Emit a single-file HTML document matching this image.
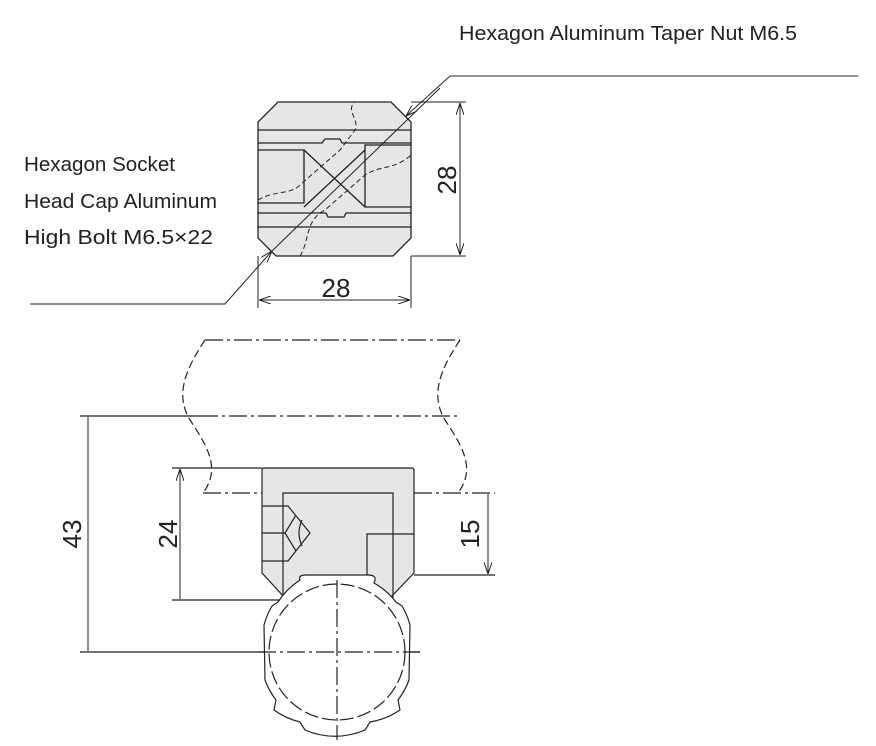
<!DOCTYPE html>
<html><head><style>body{margin:0;background:#fff}svg{display:block}</style></head><body>
<svg width="876" height="746" viewBox="0 0 876 746" xmlns="http://www.w3.org/2000/svg" font-family="Liberation Sans, sans-serif">
<defs><marker id="a" viewBox="0 0 12 8" refX="12" refY="4" markerWidth="12" markerHeight="8" orient="auto-start-reverse" markerUnits="userSpaceOnUse"><path d="M0,0 L12,4 L0,8" fill="none" stroke="#222" stroke-width="1"/></marker></defs>
<g fill="#222" font-size="20">
<text x="459" y="40" textLength="338" lengthAdjust="spacingAndGlyphs">Hexagon Aluminum Taper Nut M6.5</text>
<text x="24" y="171" textLength="151" lengthAdjust="spacingAndGlyphs">Hexagon Socket</text>
<text x="24" y="208" textLength="193" lengthAdjust="spacingAndGlyphs">Head Cap Aluminum</text>
<text x="24" y="244" textLength="189" lengthAdjust="spacingAndGlyphs">High Bolt M6.5×22</text>
</g>
<g stroke="#222" stroke-width="1.3" fill="none">
<path d="M278,102 L391,102 L411,122 L411,238 L393,256 L276,256 L258,238 L258,122 Z" fill="#e6e6e6"/>
<path d="M258,130 H411 M258,143 H322 L325,139 H340 L342,143 H411 M258,150 H304 V203 H258 M411,145 H365 V207 H411 M304,150 L365,207 M304,207 L365,150 M258,213 H326 L328,217 H344 L346,213 H411 M258,227 H411"/>
<path d="M258,200 C275,190 290,195 300,185 L340,150 L355,130 C360,120 345,110 355,102 M300,256 C310,240 305,220 325,210 L365,175 C380,165 395,170 411,155" stroke-dasharray="5,3" stroke-width="1"/>
<path d="M858,76 H450 L406,116" marker-end="url(#a)" stroke-width="1"/>
<path d="M30,304 H225 L272,251" marker-end="url(#a)" stroke-width="1"/>
<path d="M272,251 L440,88" stroke-width="1"/>
<path d="M411,102 H466 M411,256 H466 M258,256 V308 M411,256 V308" stroke-width="1"/>
<path d="M460,103 V255" marker-start="url(#a)" marker-end="url(#a)" stroke-width="1"/>
<path d="M259,300 H410" marker-start="url(#a)" marker-end="url(#a)" stroke-width="1"/>
</g>
<text x="336" y="297" font-size="26" text-anchor="middle" fill="#222">28</text>
<text transform="translate(447,180) rotate(-90)" y="9" font-size="26" text-anchor="middle" fill="#222">28</text>
<g stroke="#222" stroke-width="1.2" fill="none">
<path d="M205,340 H460 M200,416 H460 M203,493 H262 M414,493 H495" stroke-dasharray="18,4,3,4"/>
<path d="M205,340 C185,370 175,395 190,420 C210,450 220,470 203,493 M460,340 C440,370 430,395 445,420 C465,450 475,470 458,493" stroke-dasharray="8,4"/>
<path d="M80,416 H200" />
<path d="M264,468 H412 Q414,468 414,471 L414,573 L390,598 L285,598 L262,573 L262,471 Q262,468 264,468 Z" fill="#e6e6e6"/>
<path d="M283,598 V493 H393 V598 M367,575 V534 H414 M262,506 H288 L310,533 L288,561 H262 M262,533 H285 M296,515 L285,533 L296,551 M302,520 Q296,533 302,546 M414,575 H495"/>
<path d="M172,468 H262 M172,600 H285 M80,652 H420" />
<path d="M180,469 V599 M88,417 V651 M488,494 V574" marker-start="url(#a)" marker-end="url(#a)" stroke-width="1"/>
<path d="M300,580 Q298,575 306,575 L368,575 Q378,575 374,583 A75,75 0 0 1 396,602 L402,606 A75,75 0 0 1 410,625 L409,680 A75,75 0 0 1 398,700 L400,710 A75,75 0 0 1 370,722 L365,730 A75,75 0 0 1 305,730 L300,722 A75,75 0 0 1 274,710 L276,700 A75,75 0 0 1 265,680 L264,625 A75,75 0 0 1 272,606 L278,602 A75,75 0 0 1 300,580 Z" fill="#fff"/>
<circle cx="337" cy="652" r="68" stroke-dasharray="14,4"/>
<path d="M337,580 V740 M258,652 H420" stroke-dasharray="18,4,3,4"/>
</g>
<g fill="#222" font-size="26" text-anchor="middle">
<text transform="translate(168,534) rotate(-90)" y="9">24</text>
<text transform="translate(72,534) rotate(-90)" y="9">43</text>
<text transform="translate(470,534) rotate(-90)" y="9">15</text>
</g>
</svg>
</body></html>
